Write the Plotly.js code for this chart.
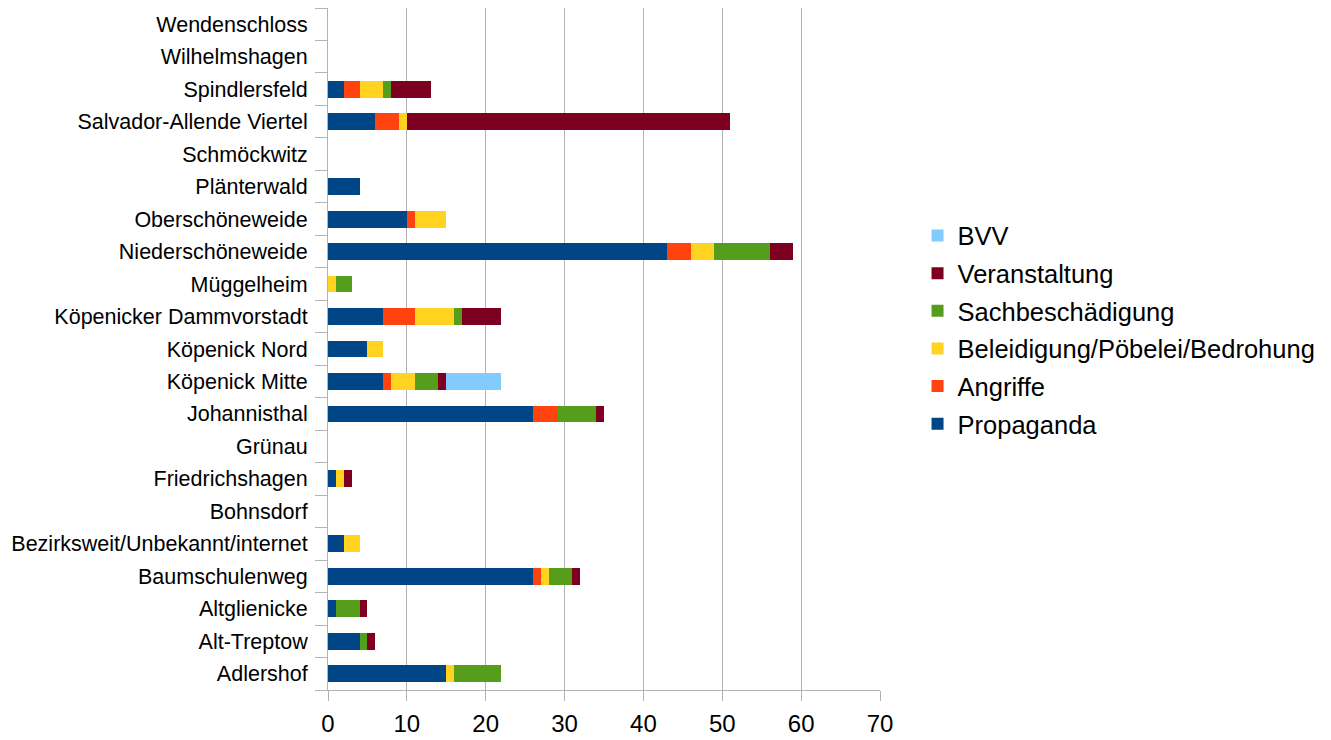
<!DOCTYPE html>
<html>
<head>
<meta charset="utf-8">
<script src="https://cdn.plot.ly/plotly-3.0.1.min.js"></script>
<style>
  html, body { margin: 0; padding: 0; background: #ffffff; }
  #chart { width: 1331px; height: 740px; }
</style>
</head>
<body>
<div id="chart"></div>
<script>
// Districts, listed bottom to top
const districts = [
  "Adlershof", "Alt-Treptow", "Altglienicke", "Baumschulenweg",
  "Bezirksweit/Unbekannt/internet", "Bohnsdorf", "Friedrichshagen", "Grünau",
  "Johannisthal", "Köpenick Mitte", "Köpenick Nord", "Köpenicker Dammvorstadt",
  "Müggelheim", "Niederschöneweide", "Oberschöneweide", "Plänterwald",
  "Schmöckwitz", "Salvador-Allende Viertel", "Spindlersfeld", "Wilhelmshagen",
  "Wendenschloss"
];

// Incident counts per category, same order as districts
const propaganda   = [15, 4, 1, 26, 2, 0, 1, 0, 26, 7, 5, 7, 0, 43, 10, 4, 0, 6, 2, 0, 0];
const angriffe     = [0, 0, 0, 1, 0, 0, 0, 0, 3, 1, 0, 4, 0, 3, 1, 0, 0, 3, 2, 0, 0];
const beleidigung  = [1, 0, 0, 1, 2, 0, 1, 0, 0, 3, 2, 5, 1, 3, 4, 0, 0, 1, 3, 0, 0];
const sachbesch    = [6, 1, 3, 3, 0, 0, 0, 0, 5, 3, 0, 1, 2, 7, 0, 0, 0, 0, 1, 0, 0];
const veranstaltung= [0, 1, 1, 1, 0, 0, 1, 0, 1, 1, 0, 5, 0, 3, 0, 0, 0, 41, 5, 0, 0];
const bvv          = [0, 0, 0, 0, 0, 0, 0, 0, 0, 7, 0, 0, 0, 0, 0, 0, 0, 0, 0, 0, 0];

const seriesNames = ["Propaganda", "Angriffe", "Beleidigung/Pöbelei/Bedrohung",
                     "Sachbeschädigung", "Veranstaltung", "BVV"];
const seriesValues = [propaganda, angriffe, beleidigung, sachbesch, veranstaltung, bvv];
const seriesColors = ["#004586", "#ff420e", "#ffd320", "#579d1c", "#7e0021", "#83caff"];

const FONT = "Liberation Sans, Arial, sans-serif";

// Legend lists the last stacked series on top
const traces = seriesNames.map((name, i) => ({
  type: "bar",
  orientation: "h",
  name: name,
  legendgroup: "g" + i,
  legendrank: seriesNames.length - i,
  y: districts,
  x: seriesValues[i],
  marker: { color: seriesColors[i], line: { width: 0 } },
  hoverinfo: "x+y+name"
}));

const layout = {
  width: 1331,
  height: 740,
  paper_bgcolor: "#ffffff",
  plot_bgcolor: "#ffffff",
  barmode: "stack",
  bargap: 0.48,
  margin: { l: 328, r: 451, t: 8, b: 50, pad: 0 },
  font: { family: FONT, color: "#000000" },
  xaxis: {
    range: [0, 70],
    dtick: 10,
    tick0: 0,
    showgrid: true,
    gridcolor: "#b3b3b3",
    gridwidth: 1,
    zeroline: false,
    showline: true,
    linecolor: "#b3b3b3",
    linewidth: 1,
    ticks: "outside",
    ticklen: 10,
    tickcolor: "#b3b3b3",
    ticklabelstandoff: 2,
    tickfont: { family: FONT, size: 24, color: "#000000" },
    fixedrange: true
  },
  yaxis: {
    type: "category",
    categoryorder: "array",
    categoryarray: districts,
    showgrid: false,
    zeroline: false,
    showline: true,
    linecolor: "#b3b3b3",
    linewidth: 1,
    ticks: "outside",
    tickson: "boundaries",
    ticklen: 12,
    tickcolor: "#b3b3b3",
    ticklabelstandoff: 15,
    tickfont: { family: FONT, size: 21.5, color: "#000000" },
    fixedrange: true
  },
  showlegend: true,
  legend: {
    x: 1.068,
    xanchor: "left",
    y: 0.528,
    yanchor: "middle",
    traceorder: "grouped",
    tracegroupgap: 1.5,
    font: { family: FONT, size: 25.5, color: "#000000" },
    bgcolor: "rgba(0,0,0,0)",
    itemwidth: 30
  }
};

Plotly.newPlot("chart", traces, layout, { displayModeBar: false, staticPlot: true });
</script>
</body>
</html>
